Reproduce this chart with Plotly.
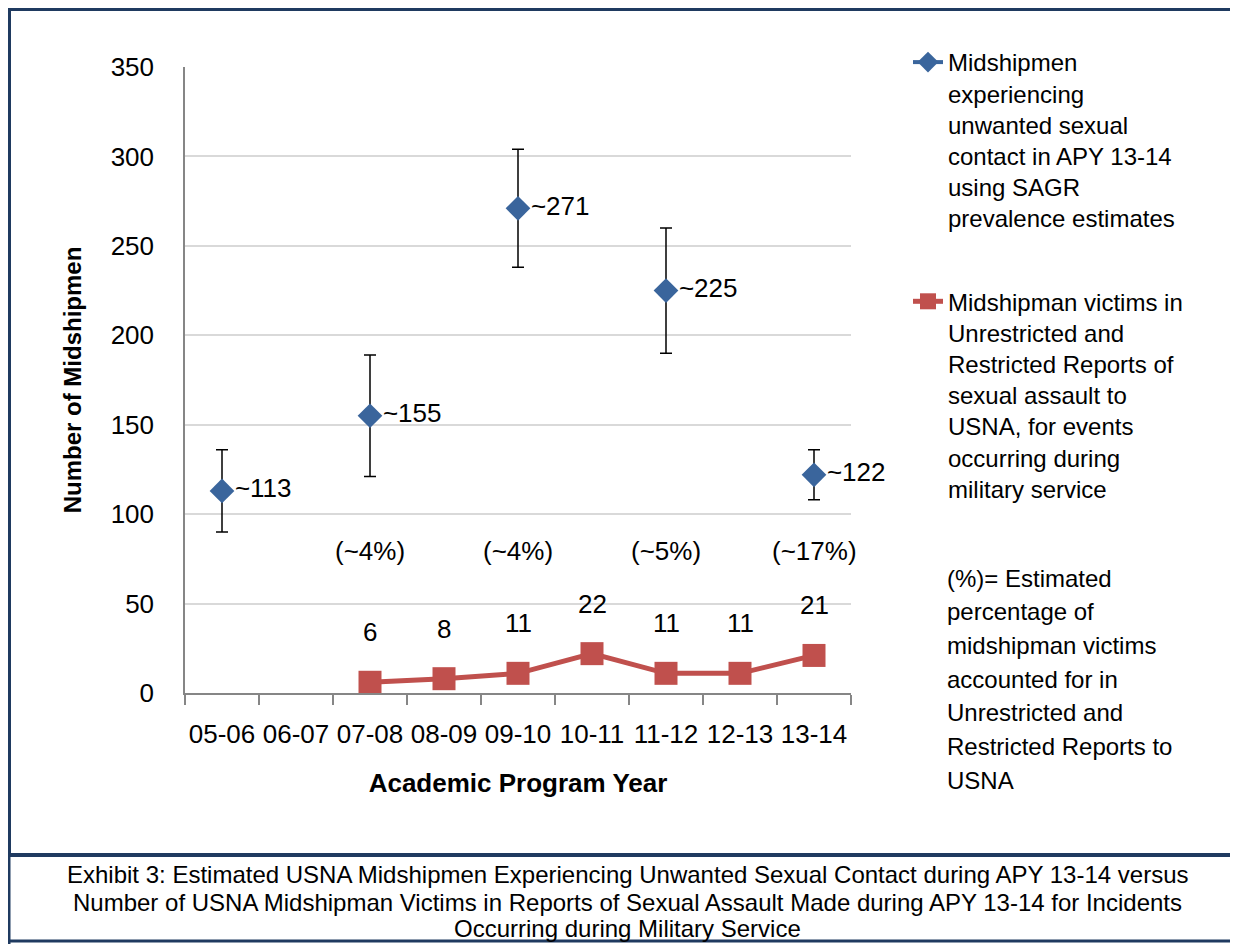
import plotly.graph_objects as go

years = ["05-06", "06-07", "07-08", "08-09", "09-10", "10-11", "11-12", "12-13", "13-14"]
sagr_est = [113, None, 155, None, 271, None, 225, None, 122]
sagr_err = [23, 0, 34, 0, 33, 0, 35, 0, 14]
reports = [None, None, 6, 8, 11, 22, 11, 11, 21]
pct_years = ["07-08", "09-10", "11-12", "13-14"]
pct_labels = ["(~4%)", "(~4%)", "(~5%)", "(~17%)"]
note_lines = ["(%)= Estimated", "percentage of", "midshipman victims", "accounted for in",
              "Unrestricted and", "Restricted Reports to", "USNA"]
caption_lines = [
    "Exhibit 3: Estimated USNA Midshipmen Experiencing Unwanted Sexual Contact during APY 13-14 versus",
    "Number of USNA Midshipman Victims in Reports of Sexual Assault Made during APY 13-14 for Incidents",
    "Occurring during Military Service",
]

BLUE = "#3A659C"
RED = "#C0504D"
FONT = "Liberation Sans, Arial, sans-serif"

OFF = 8  # page body margin
W, H = 1230, 936
L, T = 185 - OFF, 67 - OFF
PLOT_R, PLOT_B = 851 - OFF, 693 - OFF
R, B = W - PLOT_R, H - PLOT_B
PW, PH = PLOT_R - L, PLOT_B - T


def px_x(p):  # page pixel -> paper
    return (p - OFF - L) / PW


def px_y(p):
    return (PLOT_B - (p - OFF)) / PH


fig = go.Figure()

fig.add_trace(go.Scatter(
    x=years, y=sagr_est, mode="lines+markers+text", connectgaps=False, cliponaxis=False,
    name="Midshipmen<br>experiencing<br>unwanted sexual<br>contact in APY 13-14<br>using SAGR<br>prevalence estimates",
    legendgroup="a",
    line=dict(color=BLUE, width=4),
    marker=dict(symbol="diamond", size=19, color=BLUE),
    error_y=dict(type="data", array=sagr_err, color="black", thickness=1.5, width=6),
    text=[("~%d" % v) if v is not None else "" for v in sagr_est],
    textposition="middle right",
    textfont=dict(size=26, color="black", family=FONT),
))

fig.add_trace(go.Scatter(
    x=years, y=reports, mode="lines+markers", connectgaps=False, cliponaxis=False,
    name="Midshipman victims in<br>Unrestricted and<br>Restricted Reports of<br>sexual assault to<br>USNA, for events<br>occurring during<br>military service",
    legendgroup="b",
    line=dict(color=RED, width=5),
    marker=dict(symbol="square", size=23, color=RED),
))

annotations = []
for xv, v in zip(years, reports):
    if v is not None:
        annotations.append(dict(x=xv, y=v, xref="x", yref="y", text=str(v), showarrow=False,
                                yshift=50, font=dict(size=26, color="black", family=FONT)))
for xv, t in zip(pct_years, pct_labels):
    annotations.append(dict(x=xv, y=px_y(568), xref="x", yref="paper", text=t, showarrow=False,
                            font=dict(size=26, color="black", family=FONT)))

for i, line in enumerate(note_lines):
    annotations.append(dict(
        x=px_x(945), y=px_y(578 + i * 33.7), xref="paper", yref="paper", xanchor="left", yanchor="middle",
        align="left", showarrow=False, text=line,
        font=dict(size=24, color="black", family=FONT),
    ))

for line, yp in zip(caption_lines, [875, 902, 928]):
    annotations.append(dict(
        x=px_x(627), y=px_y(yp), xref="paper", yref="paper", xanchor="center", yanchor="middle",
        showarrow=False, text=line,
        font=dict(size=24, color="black", family=FONT),
    ))

NAVY = "#1F3A60"
shapes = [
    dict(type="rect", xref="paper", yref="paper", x0=px_x(9), x1=px_x(1250), y0=px_y(855), y1=px_y(9),
         line=dict(color=NAVY, width=4)),
    dict(type="line", xref="paper", yref="paper", x0=px_x(9), x1=px_x(9), y0=px_y(855), y1=px_y(950),
         line=dict(color=NAVY, width=3)),
    dict(type="line", xref="paper", yref="paper", x0=px_x(9), x1=px_x(1250), y0=px_y(941), y1=px_y(941),
         line=dict(color=NAVY, width=3)),
]

fig.update_layout(
    width=W, height=H,
    margin=dict(l=L, r=R, t=T, b=B, autoexpand=False),
    paper_bgcolor="white", plot_bgcolor="white",
    font=dict(family=FONT, color="black"),
    showlegend=True,
    legend=dict(x=px_x(908), y=px_y(40), xanchor="left", yanchor="top",
                font=dict(size=24, family=FONT, color="black"),
                traceorder="grouped", tracegroupgap=49, valign="top",
                maxheight=800,
                bgcolor="rgba(0,0,0,0)"),
    annotations=annotations,
    shapes=shapes,
    xaxis=dict(
        type="category", categoryorder="array", categoryarray=years, range=[-0.5, 8.5],
        showline=True, linecolor="#868686", linewidth=1.5,
        ticks="outside", tickson="boundaries", ticklen=10, tickcolor="#868686", tickwidth=1.5,
        showgrid=False, zeroline=False, tickangle=0,
        tickfont=dict(size=26, family=FONT, color="black"),
        ticklabelstandoff=17,
        title=dict(text="<b>Academic Program Year</b>", font=dict(size=26, family=FONT, color="black"), standoff=26),
    ),
    yaxis=dict(
        range=[0, 350], dtick=50, showline=True, linecolor="#868686", linewidth=1.5,
        showgrid=True, gridcolor="#D9D9D9", gridwidth=1.5, zeroline=False,
        ticks="", tickfont=dict(size=26, family=FONT, color="black"),
        ticklabelstandoff=24,
        title=dict(text="<b>Number of Midshipmen</b>", font=dict(size=24, family=FONT, color="black"), standoff=22),
    ),
)

fig.write_html("out.html")
